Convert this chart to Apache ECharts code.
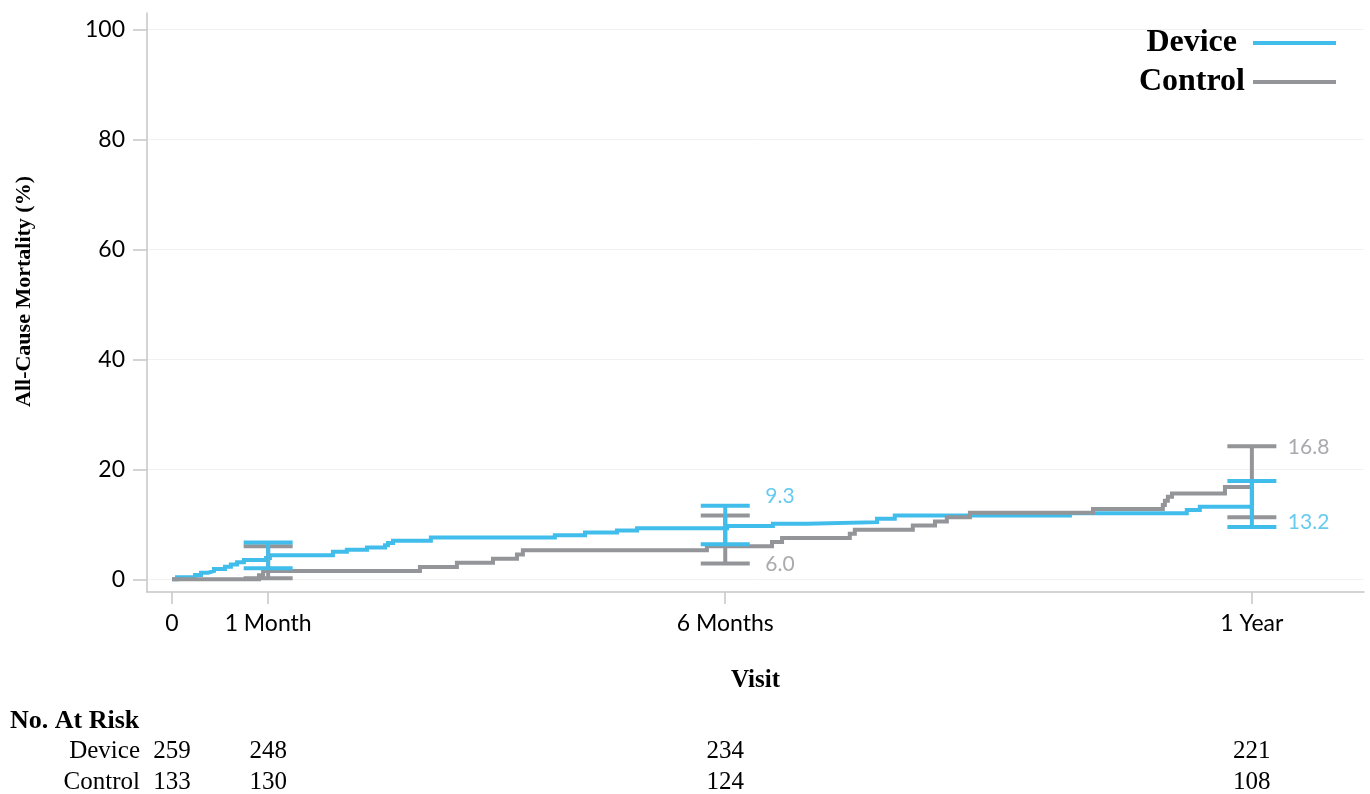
<!DOCTYPE html>
<html>
<head>
<meta charset="utf-8">
<script src="https://cdn.jsdelivr.net/npm/echarts@6/dist/echarts.min.js"></script>
<style>
  html, body { margin: 0; padding: 0; background: #ffffff; }
  #chart { width: 1370px; height: 794px; }
</style>
</head>
<body>
<div id="chart"></div>
<script>
// Visit time points (days since procedure) and their axis labels
const visitDays = [0, 32.5, 187, 365];
const visitLabels = ['0', '1 Month', '6 Months', '1 Year'];
const yTicks = [0, 20, 40, 60, 80, 100];

// Kaplan-Meier all-cause mortality (%), [day, cumulative %] at each step
const deviceCurve = [
  [0, 0], [1.7, 0.4], [7.8, 0.8], [9.8, 1.2], [12.2, 1.5], [14.2, 1.9], [17.9, 2.3],
  [19.9, 2.7], [22.0, 3.1], [24.3, 3.5], [31.8, 3.9], [33.1, 4.4], [54.4, 5.0],
  [59.1, 5.4], [65.9, 5.8], [72.0, 6.2], [73.0, 6.6], [74.7, 7.0], [87.5, 7.6],
  [129.4, 8.0], [139.6, 8.5], [150.4, 8.9], [157.2, 9.3], [187.6, 9.7], [203.1, 10.1],
  [214.6, 10.4], [238.3, 11.0], [244.3, 11.6], [303.5, 12.0], [343.0, 12.6],
  [347.4, 13.2], [365, 13.2]
];
const controlCurve = [
  [0, 0], [29.4, 0.75], [30.8, 1.5], [83.8, 2.26], [96.3, 3.0], [108.5, 3.76],
  [116.6, 4.5], [118.6, 5.3], [180.8, 6.0], [202.8, 6.8], [206.2, 7.5], [229.1, 8.3],
  [230.8, 9.0], [250.4, 9.8], [257.9, 10.5], [261.9, 11.3], [269.7, 12.1],
  [311.3, 12.8], [334.9, 13.5], [335.6, 14.3], [336.6, 15.0], [338.0, 15.6],
  [355.9, 16.8], [365, 16.8]
];

// 95% confidence intervals at the follow-up visits
const ciDays = [32.5, 187, 365];
const deviceLower = [2.0, 6.4, 9.5];
const deviceUpper = [6.7, 13.4, 17.9];
const controlLower = [0.2, 2.9, 11.3];
const controlUpper = [6.0, 11.6, 24.2];

// Annotated point estimates
const estimateDays = [187, 365];
const deviceEstimate = [9.3, 13.2];
const controlEstimate = [6.0, 16.8];

// Number at risk
const deviceAtRisk = [259, 248, 234, 221];
const controlAtRisk = [133, 130, 124, 108];

const DEVICE_COLOR = '#41bdeb';
const CONTROL_COLOR = '#949599';
const AXIS_COLOR = '#c6c6c6';
const SANS = 'Lato, "Open Sans", sans-serif';
const SERIF = '"Liberation Serif", "Times New Roman", serif';
const X_MIN = -8.45, X_MAX = 402.9;

function errorBars(name, color, lower, upper, z) {
  return {
    type: 'custom',
    name: name,
    z: z,
    silent: true,
    data: ciDays.map((d, i) => [d, lower[i], upper[i]]),
    encode: { x: 0, y: [1, 2] },
    renderItem: function (params, api) {
      const lo = api.coord([api.value(0), api.value(1)]);
      const hi = api.coord([api.value(0), api.value(2)]);
      const half = 24.5;
      const style = { stroke: color, lineWidth: 4 };
      return {
        type: 'group',
        children: [
          { type: 'line', shape: { x1: hi[0], y1: hi[1], x2: lo[0], y2: lo[1] }, style: style },
          { type: 'line', shape: { x1: hi[0] - half, y1: hi[1], x2: hi[0] + half, y2: hi[1] }, style: style },
          { type: 'line', shape: { x1: lo[0] - half, y1: lo[1], x2: lo[0] + half, y2: lo[1] }, style: style }
        ]
      };
    }
  };
}

function estimateLabels(name, color, values, offsets) {
  return {
    type: 'scatter',
    name: name,
    symbolSize: 0,
    silent: true,
    z: 6,
    data: estimateDays.map((d, i) => ({
      value: [d, values[i]],
      label: { offset: offsets[i] }
    })),
    label: {
      show: true,
      position: 'right',
      distance: 5,
      color: color,
      fontFamily: SANS,
      fontSize: 21,
      formatter: p => p.value[1].toFixed(1)
    }
  };
}

function atRiskAxis(name, counts, offset) {
  return {
    type: 'value',
    min: X_MIN,
    max: X_MAX,
    position: 'bottom',
    offset: offset,
    axisLine: { show: false, onZero: false },
    axisTick: { show: false },
    splitLine: { show: false },
    axisLabel: {
      customValues: visitDays,
      formatter: v => String(counts[visitDays.indexOf(v)]),
      margin: 0,
      verticalAlign: 'middle',
      fontFamily: SERIF,
      fontSize: 25,
      color: '#000'
    },
    name: name,
    nameLocation: 'start',
    nameGap: 7,
    nameMoveOverlap: false,
    nameTextStyle: { fontFamily: SERIF, fontSize: 25, color: '#000', align: 'right', verticalAlign: 'middle' }
  };
}

const legendBase = {
  orient: 'vertical',
  align: 'right',
  icon: 'rect',
  itemWidth: 83,
  itemHeight: 4,
  padding: 0,
  selectedMode: false
};

const chart = echarts.init(document.getElementById('chart'), null, { renderer: 'canvas' });
chart.setOption({
  animation: false,
  backgroundColor: '#ffffff',
  title: {
    text: 'No. At Risk',
    left: 10,
    top: 708,
    padding: 0,
    textStyle: { fontFamily: SERIF, fontWeight: 'bold', fontSize: 26, color: '#000' }
  },
  legend: [
    Object.assign({}, legendBase, {
      data: ['Device'], right: 34, top: 27,
      textStyle: { fontFamily: SERIF, fontWeight: 'bold', fontSize: 32, color: '#000', padding: [0, 11, 0, 0] }
    }),
    Object.assign({}, legendBase, {
      data: ['Control'], right: 34, top: 66,
      textStyle: { fontFamily: SERIF, fontWeight: 'bold', fontSize: 32, color: '#000', padding: [0, 3, 0, 0] }
    })
  ],
  grid: { left: 147, right: 6, top: 13, bottom: 202, containLabel: false, outerBoundsMode: 'none' },
  xAxis: [
    {
      type: 'value',
      min: X_MIN,
      max: X_MAX,
      axisLine: { show: true, onZero: false, lineStyle: { color: AXIS_COLOR, width: 1.5 } },
      axisTick: { show: true, customValues: visitDays, length: 12, lineStyle: { color: AXIS_COLOR, width: 1.5 } },
      axisLabel: {
        customValues: visitDays,
        formatter: v => visitLabels[visitDays.indexOf(v)],
        margin: 20,
        fontFamily: SANS,
        fontSize: 23,
        color: '#000'
      },
      splitLine: { show: false },
      name: 'Visit',
      nameLocation: 'middle',
      nameGap: 76,
      nameMoveOverlap: false,
      nameTextStyle: { fontFamily: SERIF, fontWeight: 'bold', fontSize: 25, color: '#000' }
    },
    atRiskAxis('Device', deviceAtRisk, 159),
    atRiskAxis('Control', controlAtRisk, 190)
  ],
  yAxis: {
    type: 'value',
    min: -2.3,
    max: 103,
    axisLine: { show: true, onZero: false, lineStyle: { color: AXIS_COLOR, width: 1.5 } },
    axisTick: { show: true, customValues: yTicks, length: 14, lineStyle: { color: AXIS_COLOR, width: 1.5 } },
    axisLabel: {
      customValues: yTicks,
      margin: 22,
      fontFamily: SANS,
      fontSize: 23,
      color: '#000'
    },
    splitLine: { show: true, lineStyle: { color: '#f1f1f1', width: 1 } },
    name: 'All-Cause Mortality (%)',
    nameLocation: 'middle',
    nameGap: 112,
    nameMoveOverlap: false,
    nameTextStyle: { fontFamily: SERIF, fontWeight: 'bold', fontSize: 22, color: '#000', padding: [0, 0, 0, 22] }
  },
  series: [
    {
      type: 'line',
      name: 'Device',
      step: 'end',
      symbol: 'none',
      z: 2,
      itemStyle: { color: DEVICE_COLOR },
      lineStyle: { color: DEVICE_COLOR, width: 4, join: 'miter' },
      data: deviceCurve
    },
    {
      type: 'line',
      name: 'Control',
      step: 'end',
      symbol: 'none',
      z: 3,
      itemStyle: { color: CONTROL_COLOR },
      lineStyle: { color: CONTROL_COLOR, width: 4, join: 'miter' },
      data: controlCurve
    },
    errorBars('Control 95% CI', CONTROL_COLOR, controlLower, controlUpper, 4),
    errorBars('Device 95% CI', DEVICE_COLOR, deviceLower, deviceUpper, 5),
    estimateLabels('Device estimate', DEVICE_COLOR, deviceEstimate, [[35, -32], [31, 15]]),
    estimateLabels('Control estimate', CONTROL_COLOR, controlEstimate, [[35, 18], [31, -40]])
  ]
});
</script>
</body>
</html>
